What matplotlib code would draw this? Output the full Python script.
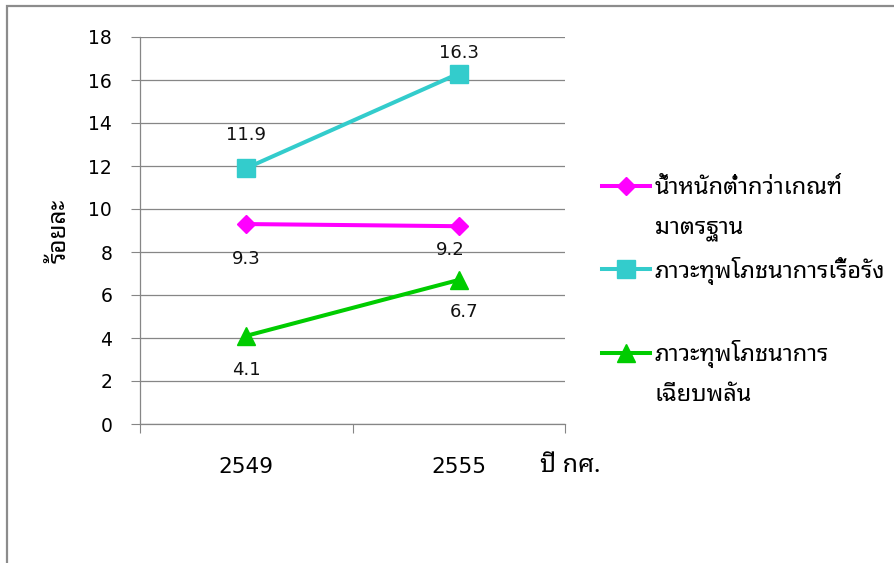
import matplotlib
matplotlib.use("Agg")
import matplotlib.pyplot as plt
from matplotlib import font_manager
from matplotlib.lines import Line2D
from matplotlib.patches import Rectangle

# data
years = ["2549", "2555"]
underweight = [9.3, 9.2]
stunting = [11.9, 16.3]
wasting = [4.1, 6.7]
series_names = ["น้ำหนักต่ำกว่าเกณฑ์", "ภาวะทุพโภชนาการเรื้อรัง", "ภาวะทุพโภชนาการ"]
series_cont = ["มาตรฐาน", " ", "เฉียบพลัน"]
yticks = [0, 2, 4, 6, 8, 10, 12, 14, 16, 18]
ylabel = "ร้อยละ"
xlabel = "ปี กศ."

# pick an installed Thai font
names = {f.name for f in font_manager.fontManager.ttflist}
THAI = next((n for n in ["Noto Sans Thai Looped", "Sarabun", "Noto Sans Thai"] if n in names), "DejaVu Sans")
NUM = "DejaVu Sans"
GRAY = "#868686"

fig = plt.figure(figsize=(8.94, 5.63), dpi=100)
ax = fig.add_axes([140/894, 139/563, 425/894, 387/563])

x = [i + 0.5 for i in range(len(years))]
styles = [
    (underweight, "#FF00FF", "D", 9.5, [(0, -25), (-6, -17)]),
    (stunting, "#33CCCC", "s", 13.5, [(0, 24), (0, 15)]),
    (wasting, "#00CC00", "^", 13, [(0, -24.5), (3.5, -23)]),
]
handles = []
for vals, col, mk, ms, offs in styles:
    ln, = ax.plot(x, vals, color=col, lw=2.9, marker=mk, ms=ms, mec=col, mfc=col, zorder=3)
    handles.append(ln)
    for xi, v, (dx, dy) in zip(x, vals, offs):
        ax.annotate(f"{v:.1f}", (xi, v), xytext=(dx, dy), textcoords="offset points",
                    ha="center", va="center", fontsize=13, family=NUM, color="#111111")

ax.set_xlim(0, len(years))
ax.set_ylim(0, 18)
ax.set_yticks(yticks)
ax.set_yticklabels([str(t) for t in yticks], family=NUM, fontsize=13.5)
ax.grid(axis="y", color=GRAY, lw=0.9)
ax.set_axisbelow(True)
ax.tick_params(axis="y", direction="out", length=6.5, color=GRAY, pad=13.5)

ax.set_xticks(range(len(years) + 1))
ax.set_xticklabels([""] * (len(years) + 1))
ax.set_xticks(x, minor=True)
ax.set_xticklabels(years, minor=True, family=NUM, fontsize=15.5)
ax.tick_params(axis="x", which="major", direction="out", length=6.5, color=GRAY)
ax.tick_params(axis="x", which="minor", length=0, pad=24)

for s in ["top", "right"]:
    ax.spines[s].set_visible(False)
for s in ["left", "bottom"]:
    ax.spines[s].set_color(GRAY)
    ax.spines[s].set_linewidth(0.9)

ax.set_ylabel(ylabel, family=THAI, fontsize=17.5, labelpad=12)
ax.text(0.941, -0.1085, xlabel, transform=ax.transAxes, ha="left", va="center",
        family=THAI, fontsize=18)

# legend: each entry's second line as an extra row
blank = Line2D([], [], color="none")
leg_h, leg_l = [], []
for h, a, b in zip(handles, series_names, series_cont):
    leg_h += [h, blank]
    leg_l += [a, b]
fig.legend(leg_h, leg_l, loc="upper left", bbox_to_anchor=(602/894, 1 - 176/563),
           frameon=False, prop={"family": THAI, "size": 17}, handlelength=2.03,
           handletextpad=0.2, labelspacing=0.66, borderpad=0, borderaxespad=0,
           markerscale=0.95)

fig.patches.append(Rectangle((7/894, -0.05), 1.0, 1.05 - 6/563, transform=fig.transFigure,
                             fill=False, ec="#8c8c8c", lw=1.6))

fig.savefig("out.png", dpi=100)
